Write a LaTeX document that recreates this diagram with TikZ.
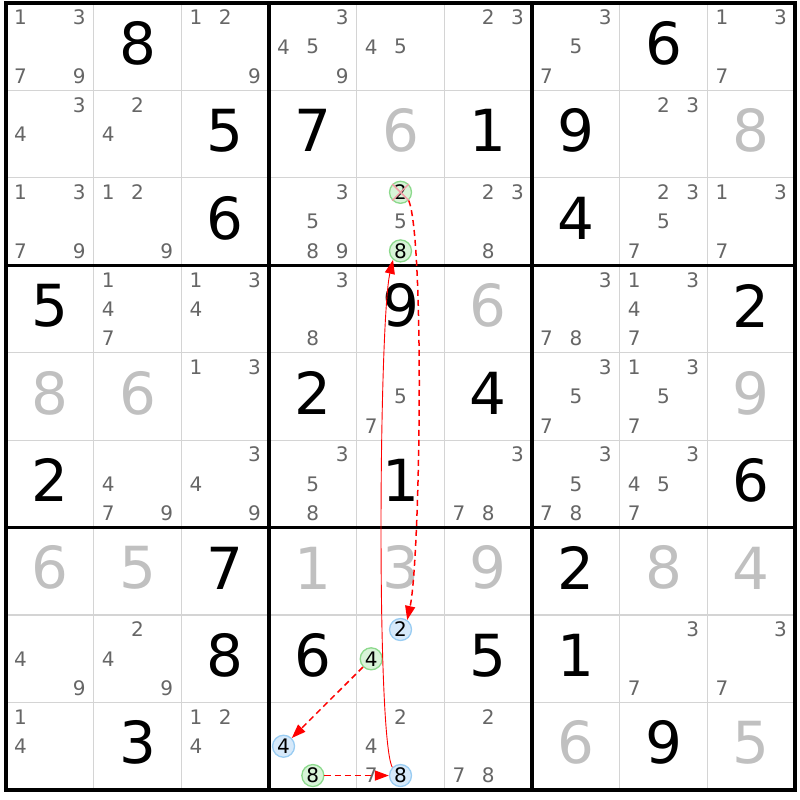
\documentclass[tikz,border=0pt]{standalone}
\usepackage{fontspec}
\setmainfont{DejaVu Sans}
\usetikzlibrary{arrows.meta}
\definecolor{candgray}{HTML}{666666}
\definecolor{solvedgray}{HTML}{C0C0C0}
\definecolor{gridgray}{HTML}{D4D4D4}
\definecolor{gfill}{HTML}{D8F4D8}
\definecolor{gline}{HTML}{8CD98C}
\definecolor{bfill}{HTML}{D6E9FA}
\definecolor{bline}{HTML}{99CCF2}
\definecolor{xred}{HTML}{F2A0A8}
\definecolor{linkred}{HTML}{FF0000}
\begin{document}
\begin{tikzpicture}[x=87.67pt,y=-87.44pt,
 given/.style={inner sep=0pt,font=\fontsize{58}{58}\selectfont,yshift=3.5pt},
 solved/.style={given,text=solvedgray},
 cand/.style={inner sep=0pt,font=\fontsize{20}{20}\selectfont,text=candgray},
 hl/.style={circle,inner sep=0pt,minimum size=22pt,line width=1.3pt,font=\fontsize{20}{20}\selectfont},
 hlg/.style={hl,draw=gline,fill=gfill},
 hlb/.style={hl,draw=bline,fill=bfill},
 thin/.style={gridgray,line width=1.2pt},
 thick/.style={black,line width=3.3pt},
 link/.style={linkred,line width=1.5pt,dash pattern=on 6pt off 4pt,-{Triangle[length=14pt,width=10pt]}},
 strong/.style={linkred,line width=0.9pt,-{Triangle[length=14pt,width=10pt]}},
 crossline/.style={xred,line width=1.5pt}]
\path[use as bounding box] (-6pt,3pt) rectangle (794pt,-797pt);
% grid
\foreach \i in {1,2,4,5,7,8}{
  \draw[thin] (\i,0) -- (\i,9);
  \draw[thin] (0,\i) -- (9,\i);
}
\foreach \i in {3,6}{
  \draw[thick] (\i,0) -- (\i,9);
  \draw[thick] (0,\i) -- (9,\i);
}
\draw[thick] (0,0) rectangle (9,9);
% givens
\foreach \c/\r/\d in {2/1/8,8/1/6,3/2/5,4/2/7,6/2/1,7/2/9,3/3/6,7/3/4,1/4/5,5/4/9,9/4/2,4/5/2,6/5/4,1/6/2,5/6/1,9/6/6,3/7/7,7/7/2,3/8/8,4/8/6,6/8/5,7/8/1,2/9/3,8/9/9}
  \node[given] (g\c-\r) at (\c-0.5,\r-0.5) {\d};
% solved
\foreach \c/\r/\d in {5/2/6,9/2/8,6/4/6,1/5/8,2/5/6,9/5/9,1/7/6,2/7/5,4/7/1,5/7/3,6/7/9,8/7/8,9/7/4,7/9/6,9/9/5}
  \node[solved] (s\c-\r) at (\c-0.5,\r-0.5) {\d};
% candidates
\foreach \c/\r/\l in {1/1/{1,3,7,9},3/1/{1,2,9},4/1/{3,4,5,9},5/1/{4,5},6/1/{2,3},7/1/{3,5,7},9/1/{1,3,7},
  1/2/{3,4},2/2/{2,4},8/2/{2,3},
  1/3/{1,3,7,9},2/3/{1,2,9},4/3/{3,5,8,9},5/3/{5},6/3/{2,3,8},8/3/{2,3,5,7},9/3/{1,3,7},
  2/4/{1,4,7},3/4/{1,3,4},4/4/{3,8},7/4/{3,7,8},8/4/{1,3,4,7},
  3/5/{1,3},5/5/{5,7},7/5/{3,5,7},8/5/{1,3,5,7},
  2/6/{4,7,9},3/6/{3,4,9},4/6/{3,5,8},6/6/{3,7,8},7/6/{3,5,7,8},8/6/{3,4,5,7},
  1/8/{4,9},2/8/{2,4,9},8/8/{3,7},9/8/{3,7},
  1/9/{1,4},3/9/{1,2,4},5/9/{2,4,7},6/9/{2,7,8}}{
  \foreach \k in \l {
    \pgfmathsetmacro\dx{mod(\k-1,3)-1}
    \pgfmathsetmacro\dy{int((\k-1)/3)-1}
    \node[cand,xshift=\dx*29.3pt,yshift=-\dy*29.3pt] (k\c-\r-\k) at (\c-0.5,\r-0.5) {\k};
  }
}
% highlighted candidates
\node[hlg,yshift=29.3pt] (a2) at (4.5,2.5) {2};
\node[hlg,yshift=-29.3pt] (d8) at (4.5,2.5) {8};
\node[hlb,yshift=29.3pt] (b2) at (4.5,7.5) {2};
\node[hlg,xshift=-29.3pt] (e4) at (4.5,7.5) {4};
\node[hlb,xshift=-29.3pt] (f4) at (3.5,8.5) {4};
\node[hlg,yshift=-29.3pt] (g8) at (3.5,8.5) {8};
\node[hlb,yshift=-29.3pt] (c8) at (4.5,8.5) {8};
\draw[crossline] (a2.north west) -- (a2.south east);
\draw[crossline] (a2.north east) -- (a2.south west);
% links
\draw[link] (a2.-45) .. controls +(16pt,-40pt) and +(13pt,60pt) .. (b2.55);
\draw[strong] (c8.135) .. controls +(-16pt,30pt) and +(-14pt,-60pt) .. (d8.-130);
\draw[link] (e4) -- (f4);
\draw[link] (g8.east) -- (c8.west);
\end{tikzpicture}
\end{document}
